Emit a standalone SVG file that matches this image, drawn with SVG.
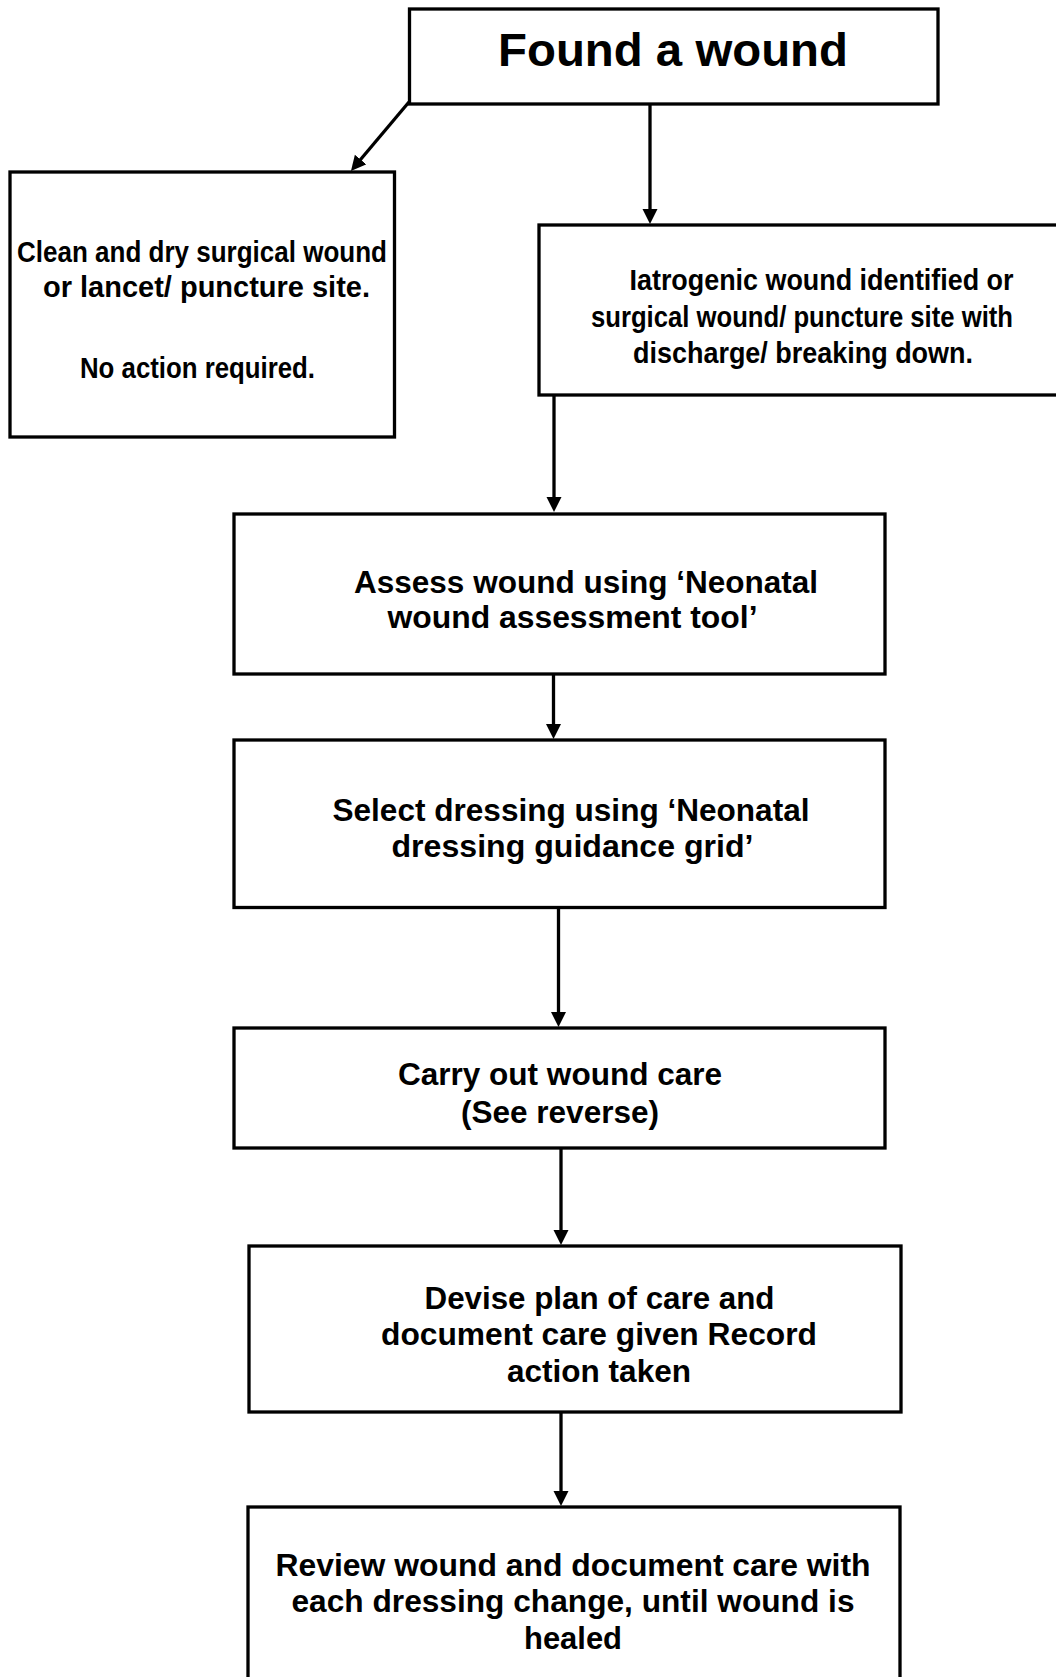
<svg xmlns="http://www.w3.org/2000/svg" width="1056" height="1677" viewBox="0 0 1056 1677">
<defs>
<style>
.box{fill:#fff;stroke:#000;stroke-width:3.3}
.t{font-family:"Liberation Sans",Arial,sans-serif;font-weight:bold;fill:#000;text-anchor:middle}
.m{font-size:32px}
.s{font-size:29px}
.c{fill:none;stroke:#000;stroke-width:3.3}
</style>
<marker id="arr" markerUnits="userSpaceOnUse" markerWidth="16" markerHeight="16" refX="5" refY="7.5" orient="auto">
<path d="M0,0 L15,7.5 L0,15 Z" fill="#000"/>
</marker>
</defs>
<rect width="1056" height="1677" fill="#fff"/>
<g id="connectors">
<line class="c" x1="409" y1="102" x2="357.4" y2="163.3" marker-end="url(#arr)"/>
<line class="c" x1="650" y1="105" x2="650" y2="214" marker-end="url(#arr)"/>
<line class="c" x1="554" y1="395" x2="554" y2="502" marker-end="url(#arr)"/>
<line class="c" x1="553.5" y1="668" x2="553.5" y2="729" marker-end="url(#arr)"/>
<line class="c" x1="558.5" y1="907" x2="558.5" y2="1017" marker-end="url(#arr)"/>
<line class="c" x1="561" y1="1148" x2="561" y2="1235" marker-end="url(#arr)"/>
<line class="c" x1="561" y1="1412" x2="561" y2="1496" marker-end="url(#arr)"/>
</g>
<g id="found">
<rect class="box" x="409.5" y="9" width="528.5" height="95"/>
<text class="t" x="673" y="66" font-size="47" textLength="350" lengthAdjust="spacingAndGlyphs">Found a wound</text>
</g>
<g id="clean">
<rect class="box" x="10" y="172" width="384.5" height="265"/>
<text class="t s" x="202" y="262" textLength="370" lengthAdjust="spacingAndGlyphs">Clean and dry surgical wound</text>
<text class="t s" x="206.5" y="297" textLength="327" lengthAdjust="spacingAndGlyphs">or lancet/ puncture site.</text>
<text class="t s" x="197.5" y="378" textLength="235" lengthAdjust="spacingAndGlyphs">No action required.</text>
</g>
<g id="iatrogenic">
<rect class="box" x="539" y="225" width="540" height="170"/>
<text class="t s" x="821.5" y="290" textLength="384" lengthAdjust="spacingAndGlyphs">Iatrogenic wound identified or</text>
<text class="t s" x="802" y="327" textLength="422" lengthAdjust="spacingAndGlyphs">surgical wound/ puncture site with</text>
<text class="t s" x="803" y="363" textLength="340" lengthAdjust="spacingAndGlyphs">discharge/ breaking down.</text>
</g>
<g id="assess">
<rect class="box" x="234" y="514" width="651" height="160"/>
<text class="t m" x="586" y="592.5" textLength="464" lengthAdjust="spacingAndGlyphs">Assess wound using ‘Neonatal</text>
<text class="t m" x="572.5" y="628" textLength="370" lengthAdjust="spacingAndGlyphs">wound assessment tool’</text>
</g>
<g id="select">
<rect class="box" x="234" y="740" width="651" height="167.5"/>
<text class="t m" x="571" y="821" textLength="477" lengthAdjust="spacingAndGlyphs">Select dressing using ‘Neonatal</text>
<text class="t m" x="572.5" y="857" textLength="362" lengthAdjust="spacingAndGlyphs">dressing guidance grid’</text>
</g>
<g id="carry">
<rect class="box" x="234" y="1028" width="651" height="120"/>
<text class="t m" x="560" y="1085" textLength="324" lengthAdjust="spacingAndGlyphs">Carry out wound care</text>
<text class="t m" x="560" y="1123" textLength="198" lengthAdjust="spacingAndGlyphs">(See reverse)</text>
</g>
<g id="devise">
<rect class="box" x="249" y="1246" width="652" height="166"/>
<text class="t m" x="599.5" y="1309" textLength="350" lengthAdjust="spacingAndGlyphs">Devise plan of care and</text>
<text class="t m" x="599" y="1345" textLength="436" lengthAdjust="spacingAndGlyphs">document care given Record</text>
<text class="t m" x="599" y="1382" textLength="184" lengthAdjust="spacingAndGlyphs">action taken</text>
</g>
<g id="review">
<rect class="box" x="248" y="1507" width="652" height="200"/>
<text class="t m" x="573" y="1575.5" textLength="595" lengthAdjust="spacingAndGlyphs">Review wound and document care with</text>
<text class="t m" x="573" y="1612" textLength="563" lengthAdjust="spacingAndGlyphs">each dressing change, until wound is</text>
<text class="t m" x="573" y="1648.5" textLength="98" lengthAdjust="spacingAndGlyphs">healed</text>
</g>
</svg>
